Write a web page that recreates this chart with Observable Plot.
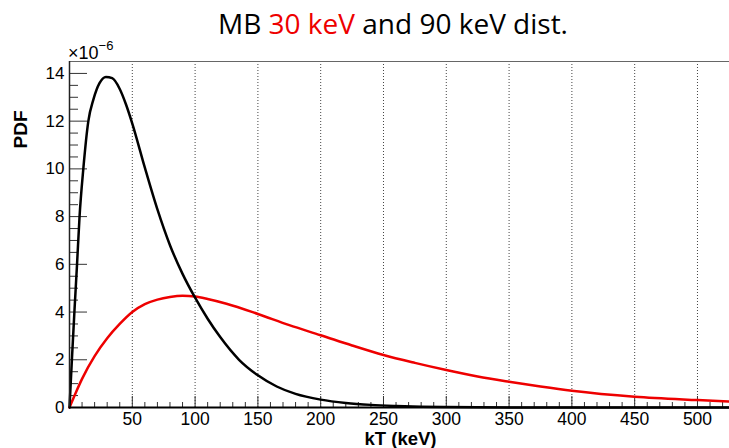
<!DOCTYPE html>
<html>
<head>
<meta charset="utf-8">
<script src="https://cdn.jsdelivr.net/npm/d3@7"></script>
<script src="https://cdn.jsdelivr.net/npm/@observablehq/plot@0.6"></script>
<style>
  html, body { margin: 0; padding: 0; background: #fff; }
  #wrap { width: 729px; height: 448px; position: relative; overflow: hidden; }
  #title { position: relative; height: 34px; }
  #title span.t { position: absolute; left: 393px; top: 1px; transform: translateX(-50%); white-space: nowrap;
    font-family: "Open Sans", sans-serif; font-size: 28px; line-height: 44px; color: #000; }
  #title .red { color: #ee0000; }
</style>
</head>
<body>
<div id="wrap">
  <div id="title"><span class="t">MB <span class="red">30 keV</span> and 90 keV dist.</span></div>
  <div id="chart"></div>
</div>
<script>
// Black curve, kT in keV, PDF in units of 1e-6
const energyBlack = [0, 2, 4, 6, 8, 11, 15, 19, 24, 29, 34, 40, 45, 50, 60, 70, 80, 90, 100, 110, 120, 135, 150, 165, 180, 200, 220, 240, 260, 280, 300, 350, 400, 525];
const pdfBlack    = [0, 2.1, 4.1, 6.0, 8.0, 10.0, 12.0, 12.9, 13.6, 13.85, 13.8, 13.35, 12.7, 11.9, 10.05, 8.3, 6.8, 5.6, 4.6, 3.72, 2.95, 2.0, 1.35, 0.88, 0.57, 0.33, 0.19, 0.11, 0.065, 0.035, 0.02, 0.005, 0, 0];
// Red curve
const energyRed = [0, 5, 10, 20, 30, 40, 50, 60, 70, 80, 90, 100, 110, 125, 150, 175, 200, 225, 250, 275, 300, 325, 350, 375, 400, 450, 500, 525];
const pdfRed    = [0, 0.62, 1.2, 2.15, 2.9, 3.5, 4.0, 4.33, 4.52, 4.63, 4.68, 4.65, 4.55, 4.35, 3.92, 3.45, 3.03, 2.6, 2.2, 1.87, 1.57, 1.3, 1.08, 0.88, 0.7, 0.45, 0.31, 0.25];

// Axes
const xDomain = [0, 525.5];
const yDomain = [0, 14.5];
const xTicks = [50, 100, 150, 200, 250, 300, 350, 400, 450, 500];
const xMinorTicks = d3.range(10, 530, 10).filter(v => v % 50 !== 0);
const yTicks = [0, 2, 4, 6, 8, 10, 12, 14];
const yMinorTicks = d3.range(0.5, 14.5, 0.5).filter(v => v % 2 !== 0);
const xLabel = "kT (keV)";
const yLabel = "PDF";

const black = energyBlack.map((e, i) => ({e, p: pdfBlack[i]}));
const red = energyRed.map((e, i) => ({e, p: pdfRed[i]}));

const chart = Plot.plot({
  width: 729,
  height: 414,
  marginLeft: 69,
  marginRight: 0,
  marginTop: 27,
  marginBottom: 41,
  x: {domain: xDomain},
  y: {domain: yDomain},
  style: {fontFamily: "'Liberation Sans', Arial, sans-serif", background: "#fff", color: "#000"},
  marks: [
    Plot.ruleX(xTicks, {stroke: "#444", strokeWidth: 1, strokeDasharray: "1,2"}),
    Plot.ruleY([yDomain[1]], {stroke: "#666", strokeWidth: 1}),
    Plot.axisY(yMinorTicks, {tickSize: -9, fill: "none", stroke: "#333", label: null}),
    Plot.axisY(yTicks, {tickSize: -18, tickPadding: 23, stroke: "#333", fontSize: 17, label: null}),
    Plot.axisX(xMinorTicks, {tickSize: -5, fill: "none", stroke: "#333", label: null}),
    Plot.axisX(xTicks, {tickSize: -11, tickPadding: 16, stroke: "#333", fontSize: 17.5, label: null}),
    Plot.line(red, {x: "e", y: "p", stroke: "#ee0000", strokeWidth: 2.5, curve: "monotone-x"}),
    Plot.line(black, {x: "e", y: "p", stroke: "#000", strokeWidth: 2.5, curve: "monotone-x"}),
    Plot.ruleX([0], {stroke: "#222", strokeWidth: 1.5}),
    Plot.ruleY([0], {stroke: "#000", strokeWidth: 2}),
    Plot.text([yLabel], {text: d => d, frameAnchor: "top-left", dx: -49, dy: 68, rotate: -90, fontSize: 19, fontWeight: "bold", textAnchor: "middle", lineAnchor: "middle"}),
    Plot.text([xLabel], {text: d => d, frameAnchor: "bottom", dx: 1, dy: 32, fontSize: 18.5, fontWeight: "bold", textAnchor: "middle", lineAnchor: "middle"})
  ]
});
document.getElementById("chart").appendChild(chart);

// exponent label
const t = d3.select(chart).append("text")
  .attr("x", 68).attr("y", 25)
  .attr("text-anchor", "start")
  .style("font-family", "'Liberation Sans', Arial, sans-serif")
  .style("font-size", "18px").attr("fill", "#000");
t.append("tspan").text("×10");
t.append("tspan").attr("dy", -9).style("font-size", "13px").text("−6");
</script>
</body>
</html>
